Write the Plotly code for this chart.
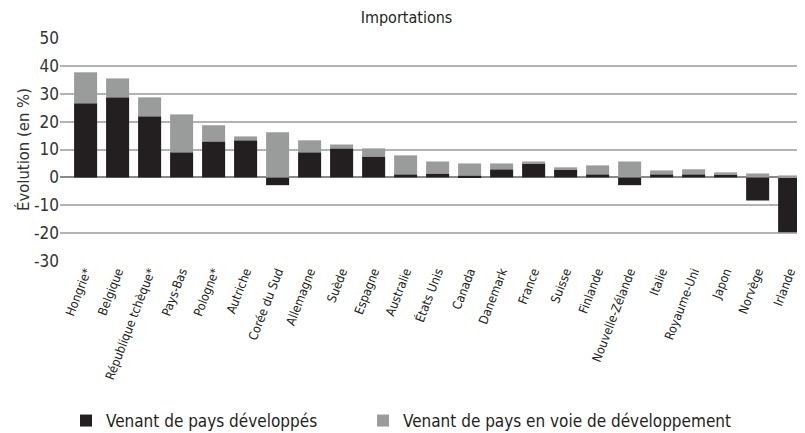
import plotly.graph_objects as go

countries = ["Hongrie*", "Belgique", "République tchèque*", "Pays-Bas", "Pologne*", "Autriche",
             "Corée du Sud", "Allemagne", "Suède", "Espagne", "Australie", "États Unis", "Canada",
             "Danemark", "France", "Suisse", "Finlande", "Nouvelle-Zélande", "Italie", "Royaume-Uni",
             "Japon", "Norvège", "Irlande"]
developed = [26.6, 28.7, 21.9, 9.0, 12.9, 13.3, -2.8, 9.0, 10.4, 7.5, 1.1, 1.4, 0.7,
             2.9, 5.0, 2.9, 1.1, -2.8, 1.1, 1.1, 1.1, -8.3, -19.7]
developing = [11.1, 6.8, 6.8, 13.6, 5.8, 1.4, 16.2, 4.3, 1.4, 2.9, 6.8, 4.3, 4.3,
              2.1, 0.7, 0.7, 3.2, 5.7, 1.4, 1.8, 0.7, 1.4, 0.7]
y_ticks = [-30, -20, -10, 0, 10, 20, 30, 40, 50]
y_tick_labels = ["-30", "-20", "-10", "0", "10", "20", "30", "40", "50"]

FONT = "DejaVu Sans Condensed, Liberation Sans Narrow, Roboto, sans-serif"

# the page body has an 8px margin, so the figure is sized to fill the rest of the window
W, H = 797, 425

fig = go.Figure()
fig.add_trace(go.Bar(x=countries, y=developed, name="Venant de pays développés",
                     marker=dict(color="#231f20", line=dict(width=0)), legend="legend"))
fig.add_trace(go.Bar(x=countries, y=developing, name="Venant de pays en voie de développement",
                     marker=dict(color="#9a9c9c", line=dict(width=0)), legend="legend2"))

leg_common = dict(orientation="h", xref="container", yref="container",
                  xanchor="left", yanchor="middle", bgcolor="rgba(0,0,0,0)",
                  font=dict(family=FONT, size=17, color="#231f20"))

fig.update_layout(
    width=W, height=H,
    barmode="relative", bargap=0.28,
    plot_bgcolor="white", paper_bgcolor="white",
    margin=dict(l=52, r=0, t=30, b=172, autoexpand=False),
    font=dict(family=FONT, color="#333333"),
    title=dict(text="Importations", x=398.5 / W, xref="container", y=1 - 9 / H, yref="container",
               xanchor="center", yanchor="middle",
               font=dict(family=FONT, size=16, color="#231f20")),
    showlegend=True,
    legend=dict(x=58 / W, y=1 - 413 / H, **leg_common),
    legend2=dict(x=355 / W, y=1 - 413 / H, **leg_common),
)
fig.update_xaxes(range=[-0.8, 22.48], tickangle=-69, showgrid=False, showline=False,
                 automargin=False,
                 ticks="", tickfont=dict(family=FONT, size=12.5, color="#231f20"))
fig.update_yaxes(range=[-30, 50], tickvals=y_ticks, ticktext=y_tick_labels,
                 showgrid=True, gridcolor="#b3b3b3",
                 gridwidth=1.5, zeroline=True, zerolinecolor="#8a8a8a", zerolinewidth=1.5,
                 showline=False, ticks="", automargin=False,
                 tickfont=dict(family=FONT, size=17, color="#333333"),
                 title=dict(text="Évolution (en %)", standoff=0,
                            font=dict(family=FONT, size=16.5, color="#333333")))

fig.write_html("out.html")
